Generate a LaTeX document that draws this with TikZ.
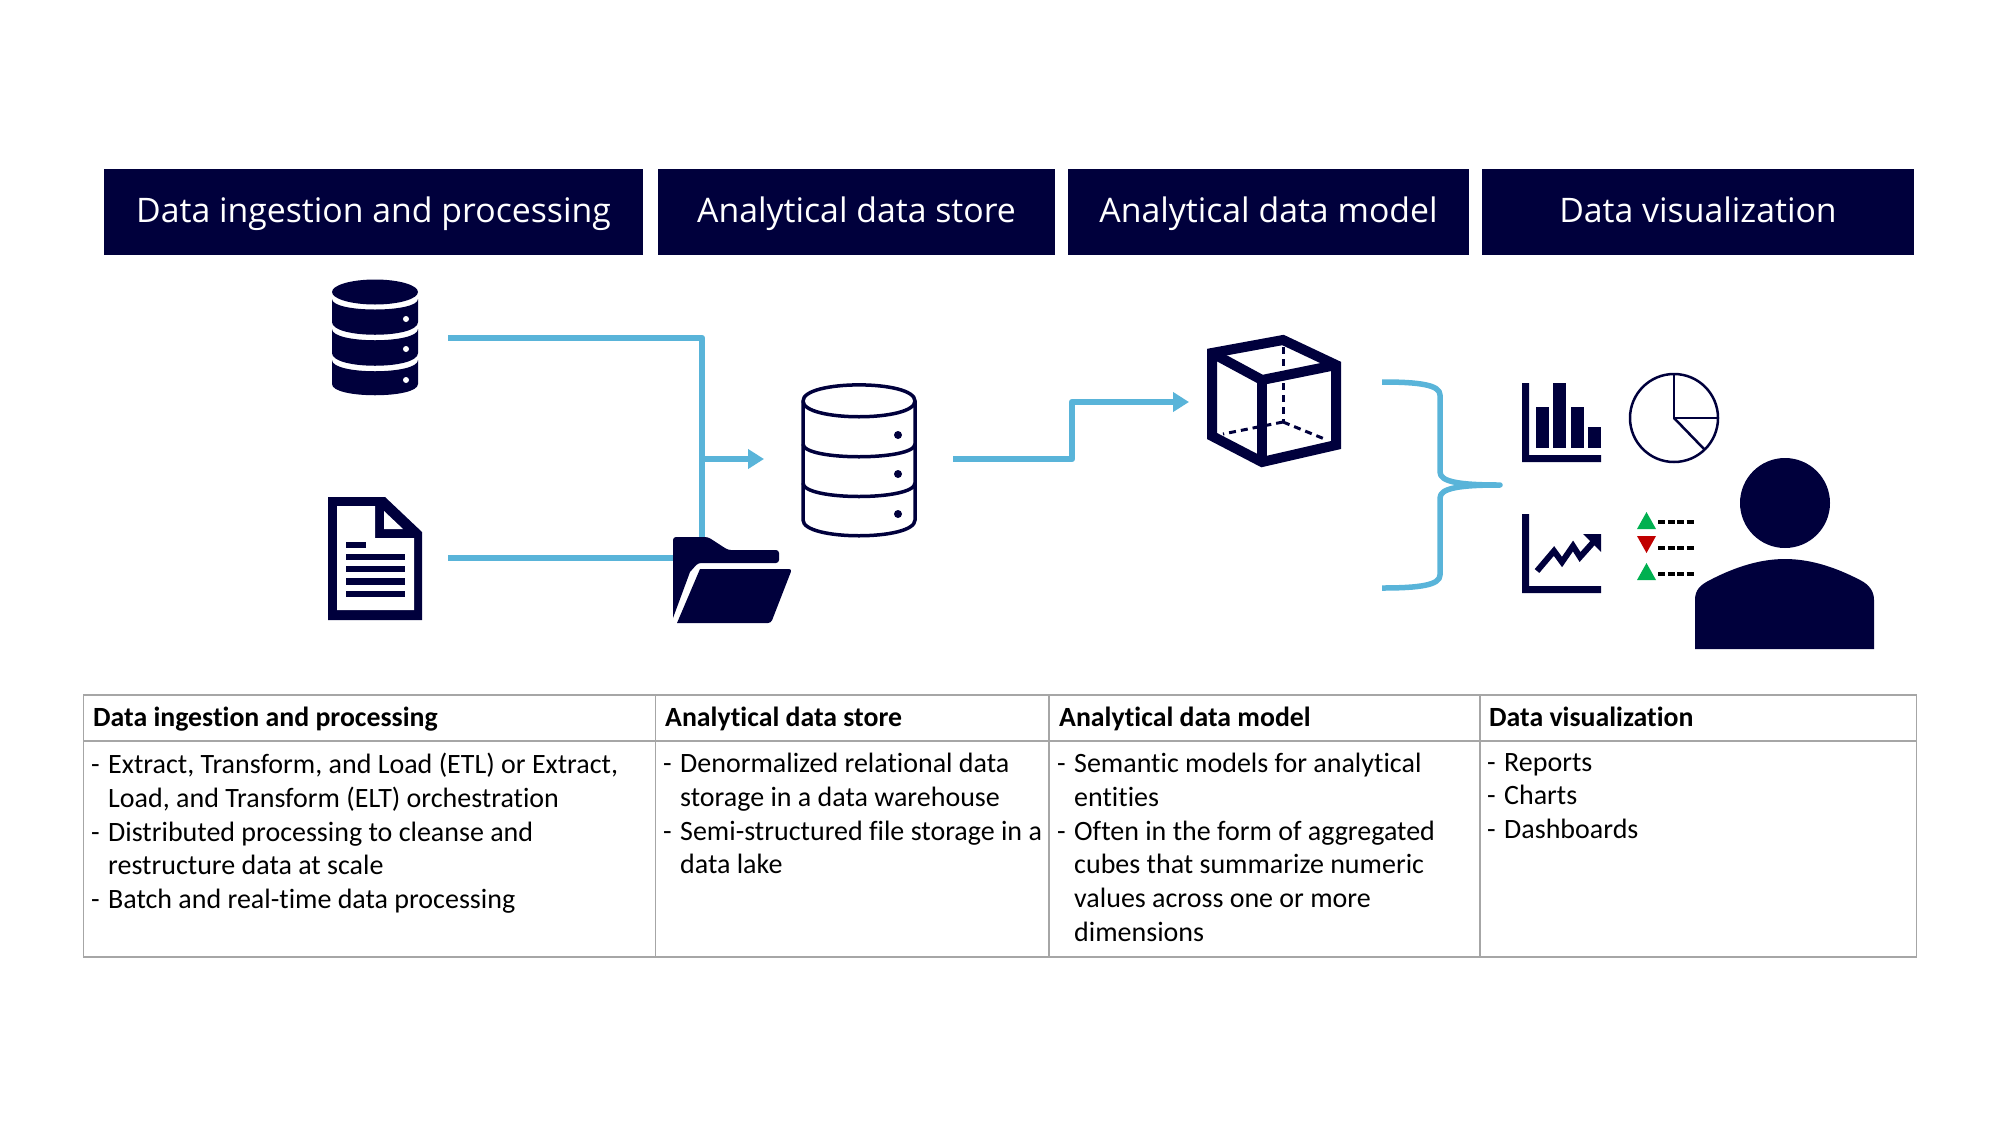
\documentclass[tikz,border=0pt]{standalone}
\usepackage{fontspec}
\setmainfont{Carlito}[Ligatures=CommonOff]
\newfontfamily\bannerfont{Open Sans}
\usetikzlibrary{arrows.meta}
\definecolor{navy}{HTML}{00003C}
\definecolor{flow}{HTML}{59B4D9}
\definecolor{rule}{HTML}{A6A6A6}
\definecolor{upgreen}{HTML}{00B050}
\definecolor{downred}{HTML}{C00000}
\newcommand{\dashitem}{\makebox[17pt][l]{-}}
\newcommand{\hangitem}{\hspace*{17pt}}

\begin{document}
\begin{tikzpicture}[x=1pt,y=-1pt,>={Stealth[inset=0pt,length=16pt,width=19pt]},
    banner/.style={fill=navy,text=white,font=\bannerfont\fontsize{33.8}{40}\selectfont,inner sep=0pt,text height=28pt,text depth=8pt,minimum height=86pt},
    flowline/.style={draw=flow,line width=6.5pt,line join=round},
    solid navy/.style={fill=navy,draw=none},
    gridline/.style={draw=rule,line width=1.2pt},
    headtext/.style={anchor=base west,inner sep=0pt,font=\bfseries\fontsize{27.8}{33.7}\selectfont},
    bodytext/.style={anchor=north west,inner sep=0pt,align=left,font=\fontsize{28}{33.7}\selectfont}]

  \useasboundingbox (0,0) rectangle (2000,1125);

  % top banners
  \node[banner,minimum width=539pt] (bnIngest) at (373.5,212) {Data ingestion and processing};
  \node[banner,minimum width=397pt] (bnStore)  at (856.5,212) {Analytical data store};
  \node[banner,minimum width=401pt] (bnModel)  at (1268.5,212) {Analytical data model};
  \node[banner,minimum width=432pt] (bnViz)    at (1698,212) {Data visualization};

  % connector ends
  \coordinate (srcOut)    at (448,338);
  \coordinate (srcJoin)   at (702,338);
  \coordinate (folderTop) at (702,545);
  \coordinate (docOut)    at (448,558);
  \coordinate (folderIn)  at (680,558);
  \coordinate (midJoin)   at (699,459);
  \coordinate (storeIn)   at (764,459);
  \coordinate (storeOut)  at (953,459);
  \coordinate (stepLow)   at (1072,459);
  \coordinate (stepHigh)  at (1072,402);
  \coordinate (cubeIn)    at (1189,402);

  % connectors
  \draw[flowline] (srcOut) -- (srcJoin) -- (folderTop);
  \draw[flowline] (docOut) -- (folderIn);
  \draw[flowline,->] (midJoin) -- (storeIn);
  \draw[flowline,->] (storeOut) -- (stepLow) -- (stepHigh) -- (cubeIn);

  % solid database
  \fill[solid navy] (375,292) ellipse [x radius=43,y radius=12.5];
  \fill[solid navy] (332,299) .. controls (332,313) and (418,313) .. (418,299) -- (418,322)
    .. controls (418,339) and (332,339) .. (332,322) -- cycle;
  \fill[solid navy] (332,329) .. controls (332,344) and (418,344) .. (418,329) -- (418,353)
    .. controls (418,370) and (332,370) .. (332,353) -- cycle;
  \fill[solid navy] (332,360) .. controls (332,375) and (418,375) .. (418,360) -- (418,384)
    .. controls (418,399) and (332,399) .. (332,384) -- cycle;
  \fill[white] (406,319) circle (3pt) (406,349) circle (3pt) (406,380) circle (3pt);

  % document
  \fill[solid navy] (328,497) -- (385,497) -- (422,532) -- (422,620) -- (328,620) -- cycle;
  \fill[white] (337,506) -- (375,506) -- (375,538) -- (414,538) -- (414,610) -- (337,610) -- cycle;
  \fill[white] (384,511) -- (403,529) -- (384,529) -- cycle;
  \fill[solid navy] (346,542) rectangle (366,548);
  \fill[solid navy] (346,554) rectangle (404.5,560);
  \fill[solid navy] (346,566) rectangle (404.5,572);
  \fill[solid navy] (346,578) rectangle (404.5,585);
  \fill[solid navy] (346,591) rectangle (404.5,597);

  % folder
  \fill[solid navy,rounded corners=3pt] (673,618) -- (673,537) -- (708,537) -- (728,550)
    -- (779,550) -- (779,563) -- (698,563) [sharp corners] -- (690,572) -- cycle;
  \fill[solid navy,rounded corners=3pt] (700,569) -- (792,569) -- (771,623) [sharp corners]
    -- (677,623) -- cycle;

  % outlined database
  \draw[navy,line width=3.5pt] (803,401) .. controls (803,379.5) and (915,379.5) .. (915,401)
    -- (915,520) .. controls (915,541) and (803,541) .. (803,520) -- cycle;
  \draw[navy,line width=3.5pt] (803,401) .. controls (803,422) and (915,422) .. (915,401);
  \draw[navy,line width=3.5pt] (803,444) .. controls (803,461) and (915,461) .. (915,444);
  \draw[navy,line width=3.5pt] (803,483) .. controls (803,501) and (915,501) .. (915,483);
  \fill[navy] (898,435) circle (4pt) (898,474) circle (4pt) (898,514) circle (4pt);

  % cube
  \draw[navy,line width=3pt,dash pattern=on 7pt off 5pt] (1283,347) -- (1283,422);
  \draw[navy,line width=3pt,dash pattern=on 7pt off 5pt] (1283,422) -- (1223,434);
  \draw[navy,line width=3pt,dash pattern=on 7pt off 5pt] (1283,422) -- (1327,440);
  \draw[navy,line width=10pt,miter limit=5] (1212,353) -- (1283,340) -- (1336,365) -- (1336,445)
    -- (1262,462) -- (1212,436) -- cycle;
  \draw[navy,line width=10pt] (1212,353) -- (1262,380) -- (1336,365);
  \draw[navy,line width=10pt] (1262,380) -- (1262,462);

  % brace
  \draw[flowline,line width=5.5pt] (1382,382) .. controls (1420,382) and (1440,385) .. (1440,395) -- (1440,472)
    .. controls (1440,482) and (1460,485) .. (1500,485) .. controls (1460,485) and (1440,488) .. (1440,498)
    -- (1440,575) .. controls (1440,585) and (1420,588) .. (1382,588);

  % bar chart
  \fill[solid navy] (1522,383) -- (1529,383) -- (1529,455) -- (1601,455) -- (1601,462) -- (1522,462) -- cycle;
  \fill[solid navy] (1536,407) rectangle (1549,448);
  \fill[solid navy] (1553,383) rectangle (1566,448);
  \fill[solid navy] (1571,407) rectangle (1584,448);
  \fill[solid navy] (1588,427) rectangle (1601,448);

  % pie chart
  \draw[navy,line width=2.5pt] (1674,418) circle (44pt);
  \draw[navy,line width=2.5pt] (1674,374) -- (1674,418) -- (1718,418);
  \draw[navy,line width=2.5pt] (1674,418) -- (1704,449);

  % line chart
  \fill[solid navy] (1522,514) -- (1529,514) -- (1529,586) -- (1601,586) -- (1601,593) -- (1522,593) -- cycle;
  \draw[navy,line width=6pt] (1537,571) -- (1554,551) -- (1562,562) -- (1573,546) -- (1580,557) -- (1597,538);
  \fill[solid navy] (1583,534) -- (1601,534) -- (1601,552) -- cycle;

  % status list
  \fill[upgreen] (1646.5,512) -- (1656,529) -- (1637,529) -- cycle;
  \fill[downred] (1637,536) -- (1656,536) -- (1646.5,553) -- cycle;
  \fill[upgreen] (1646.5,563) -- (1656,580) -- (1637,580) -- cycle;
  \draw[black,line width=3.5pt,dash pattern=on 7pt off 2.5pt] (1658,522) -- (1695,522);
  \draw[black,line width=3.5pt,dash pattern=on 7pt off 2.5pt] (1658,548) -- (1695,548);
  \draw[black,line width=3.5pt,dash pattern=on 7pt off 2.5pt] (1658,574) -- (1695,574);

  % person
  \fill[solid navy] (1785,503) circle (45pt);
  \fill[solid navy] (1695,649) -- (1695,600) .. controls (1695,590) and (1700,585) .. (1710,580)
    .. controls (1735,567) and (1760,559) .. (1785,559) .. controls (1810,559) and (1835,567) .. (1860,580)
    .. controls (1870,585) and (1874,592) .. (1874,600) -- (1874,649) -- cycle;

  % table grid
  \draw[gridline] (83.5,695) rectangle (1916.5,957);
  \draw[gridline] (83.5,741) -- (1916.5,741);
  \draw[gridline] (655.5,695) -- (655.5,957);
  \draw[gridline] (1049,695) -- (1049,957);
  \draw[gridline] (1480,695) -- (1480,957);

  % table heads
  \node[headtext] (hdIngest) at (93,726) {Data ingestion and processing};
  \node[headtext] (hdStore)  at (665,726) {Analytical data store};
  \node[headtext] (hdModel)  at (1059,726) {Analytical data model};
  \node[headtext] (hdViz)    at (1489,726) {Data visualization};

  % table cells
  \node[bodytext] (cellIngest) at (91,753) {\dashitem Extract, Transform, and Load (ETL) or Extract,\\
    \hangitem Load, and Transform (ELT) orchestration\\
    \dashitem Distributed processing to cleanse and\\
    \hangitem restructure data at scale\\
    \dashitem Batch and real-time data processing};
  \node[bodytext] (cellStore) at (663,753) {\dashitem Denormalized relational data\\
    \hangitem storage in a data warehouse\\
    \dashitem Semi-structured file storage in a\\
    \hangitem data lake};
  \node[bodytext] (cellModel) at (1057,753) {\dashitem Semantic models for analytical\\
    \hangitem entities\\
    \dashitem Often in the form of aggregated\\
    \hangitem cubes that summarize numeric\\
    \hangitem values across one or more\\
    \hangitem dimensions};
  \node[bodytext] (cellViz) at (1487,753) {\dashitem Reports\\
    \dashitem Charts\\
    \dashitem Dashboards};

\end{tikzpicture}
\end{document}
